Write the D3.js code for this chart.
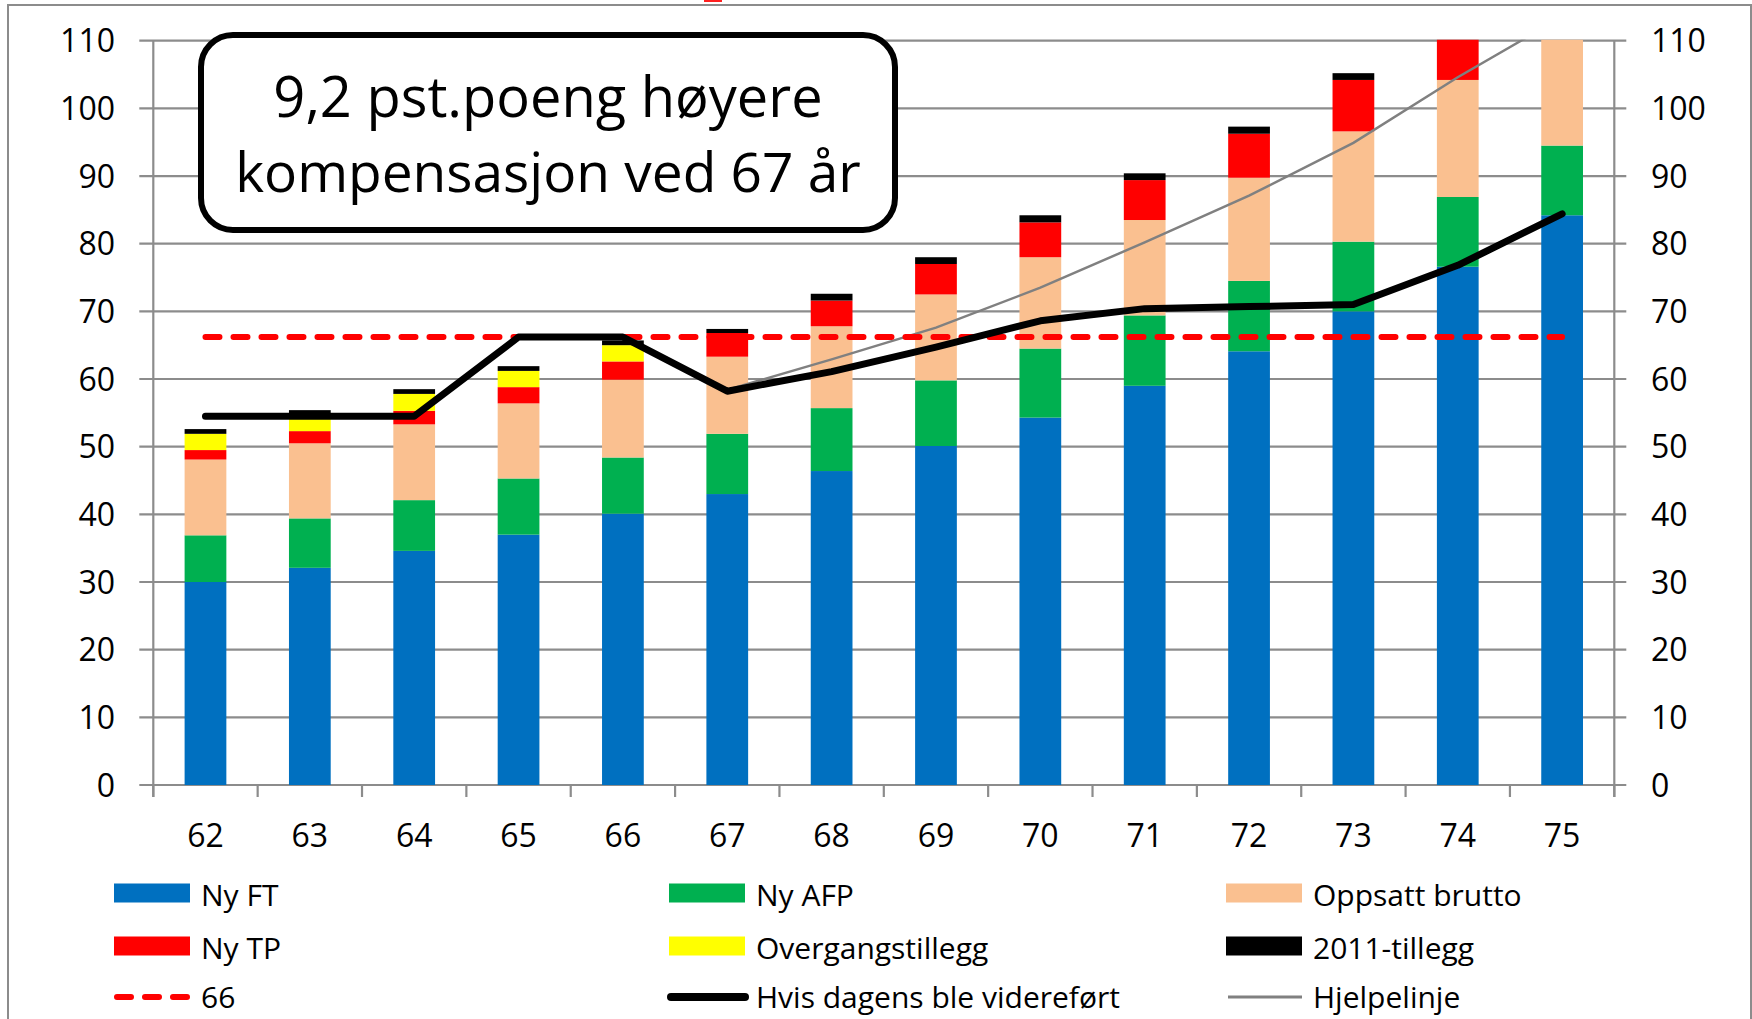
<!DOCTYPE html>
<html>
<head>
<meta charset="utf-8">
<script src="https://cdn.jsdelivr.net/npm/d3@7"></script>
<style>
  body { margin: 0; background: #fff; }
  svg { display: block; font-family: "Open Sans", sans-serif; }
  .tick-label { font-size: 32px; fill: #000; }
  .legend-text { font-size: 30px; fill: #000; }
</style>
</head>
<body>
<div id="chart"></div>
<script>
// ages on the x axis
const ages = [62, 63, 64, 65, 66, 67, 68, 69, 70, 71, 72, 73, 74, 75];

// stacked series (segment heights)
const nyFT = [30.0, 32.1, 34.6, 37.0, 40.1, 43.0, 46.4, 50.1, 54.3, 59.0, 64.1, 70.0, 76.6, 84.2];
const nyAFP = [6.9, 7.3, 7.5, 8.3, 8.3, 8.9, 9.3, 9.7, 10.2, 10.4, 10.4, 10.3, 10.3, 10.3];
const oppsatt = [11.2, 11.1, 11.2, 11.1, 11.5, 11.4, 12.1, 12.7, 13.5, 14.1, 15.25, 16.3, 17.3, 17.5];
const nyTP = [1.4, 1.8, 2.0, 2.4, 2.7, 3.5, 3.8, 4.5, 5.15, 5.9, 6.5, 7.6, 8.4, 9.3];
const overgang = [2.4, 2.4, 2.5, 2.4, 2.4, 0, 0, 0, 0, 0, 0, 0, 0, 0];
const tillegg2011 = [0.7, 0.7, 0.7, 0.7, 0.7, 0.6, 1.0, 1.0, 1.05, 1.0, 1.05, 1.0, 1.0, 1.0];

// line series
const ref66 = [66.2, 66.2, 66.2, 66.2, 66.2, 66.2, 66.2, 66.2, 66.2, 66.2, 66.2, 66.2, 66.2, 66.2];
const dagens = [54.5, 54.5, 54.5, 66.2, 66.2, 58.2, 61.1, 64.7, 68.6, 70.4, 70.7, 71.0, 76.8, 84.4];
const hjelpelinje = [null, null, null, null, null, 58.4, 62.9, 67.6, 73.5, 80.2, 87.1, 94.9, 104.6, 113.5];

// y axis ticks
const yTicks = [0, 10, 20, 30, 40, 50, 60, 70, 80, 90, 100, 110];

const seriesNames = ["Ny FT", "Ny AFP", "Oppsatt brutto", "Ny TP", "Overgangstillegg", "2011-tillegg"];
const seriesValues = [nyFT, nyAFP, oppsatt, nyTP, overgang, tillegg2011];
const seriesColors = ["#0070c0", "#00b050", "#fac090", "#ff0000", "#ffff00", "#000000"];

function draw() {
  const width = 1752, height = 1019;
  const left = 153.3, right = 1614.3, top = 40.7, bottom = 785;

  const svg = d3.select("#chart")
    .append("svg")
    .attr("width", width)
    .attr("height", height);

  // outer frame
  svg.append("rect")
    .attr("x", 8).attr("y", 5)
    .attr("width", 1743).attr("height", 1030)
    .attr("fill", "none")
    .attr("stroke", "#8c8c8c")
    .attr("stroke-width", 2);

  // small red piece cut off at the top
  svg.append("rect")
    .attr("x", 704).attr("y", 0)
    .attr("width", 18).attr("height", 2)
    .attr("fill", "#ff2020");

  // scales
  const x = d3.scaleBand()
    .domain(ages)
    .range([left, right])
    .paddingInner(0.6)
    .paddingOuter(0.3);

  const y = d3.scaleLinear()
    .domain([0, 110])
    .range([bottom, top]);

  const step = x.step();
  const cx = a => x(a) + x.bandwidth() / 2;

  // gridlines with outer ticks on both sides
  svg.append("g")
    .selectAll("line")
    .data(yTicks)
    .join("line")
    .attr("x1", left - 14)
    .attr("x2", right + 12)
    .attr("y1", d => y(d))
    .attr("y2", d => y(d))
    .attr("stroke", "#8c8c8c")
    .attr("stroke-width", 2.2);

  // axis lines
  svg.append("line")
    .attr("x1", left).attr("x2", left)
    .attr("y1", top).attr("y2", bottom + 12)
    .attr("stroke", "#8c8c8c").attr("stroke-width", 2.2);
  svg.append("line")
    .attr("x1", right).attr("x2", right)
    .attr("y1", top).attr("y2", bottom + 12)
    .attr("stroke", "#8c8c8c").attr("stroke-width", 2.2);

  // category ticks between ages
  svg.append("g")
    .selectAll("line")
    .data(d3.range(ages.length + 1))
    .join("line")
    .attr("x1", i => left + i * step)
    .attr("x2", i => left + i * step)
    .attr("y1", bottom)
    .attr("y2", bottom + 12)
    .attr("stroke", "#8c8c8c")
    .attr("stroke-width", 2.2);

  // y labels left and right
  svg.append("g")
    .selectAll("text")
    .data(yTicks)
    .join("text")
    .classed("tick-label", true)
    .attr("x", 115)
    .attr("y", d => y(d))
    .attr("dy", "0.36em")
    .attr("text-anchor", "end")
    .text(d => d);

  svg.append("g")
    .selectAll("text")
    .data(yTicks)
    .join("text")
    .classed("tick-label", true)
    .attr("x", 1651)
    .attr("y", d => y(d))
    .attr("dy", "0.36em")
    .attr("text-anchor", "start")
    .text(d => d);

  // x labels
  svg.append("g")
    .selectAll("text")
    .data(ages)
    .join("text")
    .classed("tick-label", true)
    .attr("x", d => cx(d))
    .attr("y", 835)
    .attr("dy", "0.36em")
    .attr("text-anchor", "middle")
    .text(d => d);

  // clip to the plot area
  svg.append("clipPath")
    .attr("id", "plot-clip")
    .append("rect")
    .attr("x", left).attr("y", top - 1)
    .attr("width", right - left).attr("height", bottom - top + 1);

  const plot = svg.append("g").attr("clip-path", "url(#plot-clip)");

  // stacked bars
  const table = ages.map((a, i) => {
    const row = { age: a };
    seriesNames.forEach((s, k) => row[s] = seriesValues[k][i]);
    return row;
  });
  const stacked = d3.stack().keys(seriesNames)(table);

  plot.selectAll("g.layer")
    .data(stacked)
    .join("g")
    .attr("class", "layer")
    .attr("fill", (d, i) => seriesColors[i])
    .selectAll("rect")
    .data(d => d.filter(p => p[1] > p[0]))
    .join("rect")
    .attr("x", d => x(d.data.age))
    .attr("width", x.bandwidth())
    .attr("y", d => y(d[1]))
    .attr("height", d => y(d[0]) - y(d[1]));

  // lines
  const line = d3.line()
    .defined(d => d[1] != null)
    .x(d => cx(d[0]))
    .y(d => y(d[1]));

  plot.append("path")
    .attr("d", line(ages.map((a, i) => [a, hjelpelinje[i]])))
    .attr("fill", "none")
    .attr("stroke", "#808080")
    .attr("stroke-width", 2.5);

  plot.append("path")
    .attr("d", line(ages.map((a, i) => [a, ref66[i]])))
    .attr("fill", "none")
    .attr("stroke", "#ff0000")
    .attr("stroke-width", 6)
    .attr("stroke-linecap", "round")
    .attr("stroke-dasharray", "14,14");

  plot.append("path")
    .attr("d", line(ages.map((a, i) => [a, dagens[i]])))
    .attr("fill", "none")
    .attr("stroke", "#000")
    .attr("stroke-width", 7)
    .attr("stroke-linecap", "round")
    .attr("stroke-linejoin", "round");

  // annotation box
  svg.append("rect")
    .attr("x", 201).attr("y", 35)
    .attr("width", 694).attr("height", 195)
    .attr("rx", 32).attr("ry", 32)
    .attr("fill", "#fff")
    .attr("stroke", "#000")
    .attr("stroke-width", 6);

  svg.append("text")
    .attr("x", 548).attr("y", 117)
    .attr("text-anchor", "middle")
    .style("font-size", "56px")
    .text("9,2 pst.poeng høyere");

  svg.append("text")
    .attr("x", 548).attr("y", 192)
    .attr("text-anchor", "middle")
    .style("font-size", "55px")
    .text("kompensasjon ved 67 år");

  // legend
  const legendItems = [
    { name: "Ny FT", type: "rect", color: seriesColors[0], col: 0, row: 0 },
    { name: "Ny AFP", type: "rect", color: seriesColors[1], col: 1, row: 0 },
    { name: "Oppsatt brutto", type: "rect", color: seriesColors[2], col: 2, row: 0 },
    { name: "Ny TP", type: "rect", color: seriesColors[3], col: 0, row: 1 },
    { name: "Overgangstillegg", type: "rect", color: seriesColors[4], col: 1, row: 1 },
    { name: "2011-tillegg", type: "rect", color: seriesColors[5], col: 2, row: 1 },
    { name: "66", type: "dash", color: "#ff0000", col: 0, row: 2 },
    { name: "Hvis dagens ble videreført", type: "thick", color: "#000", col: 1, row: 2 },
    { name: "Hjelpelinje", type: "thin", color: "#808080", col: 2, row: 2 }
  ];
  const colX = [114, 669, 1226];
  const rowY = [893, 946, 997];

  const legend = svg.append("g")
    .selectAll("g")
    .data(legendItems)
    .join("g")
    .attr("transform", d => `translate(${colX[d.col]},${rowY[d.row]})`);

  legend.filter(d => d.type === "rect")
    .append("rect")
    .attr("x", 0).attr("y", -9.5)
    .attr("width", 76).attr("height", 19)
    .attr("fill", d => d.color);

  legend.filter(d => d.type !== "rect")
    .append("line")
    .attr("x1", d => d.type === "dash" ? 3 : 2)
    .attr("x2", 76)
    .attr("y1", 0).attr("y2", 0)
    .attr("stroke", d => d.color)
    .attr("stroke-width", d => d.type === "dash" ? 6 : d.type === "thick" ? 8 : 3)
    .attr("stroke-linecap", d => d.type === "thin" ? "butt" : "round")
    .attr("stroke-dasharray", d => d.type === "dash" ? "14,14" : null);

  legend.append("text")
    .classed("legend-text", true)
    .attr("x", 87)
    .attr("y", d => d.row === 2 ? 0 : 2)
    .attr("dy", "0.36em")
    .text(d => d.name);
}

draw();
</script>
</body>
</html>
